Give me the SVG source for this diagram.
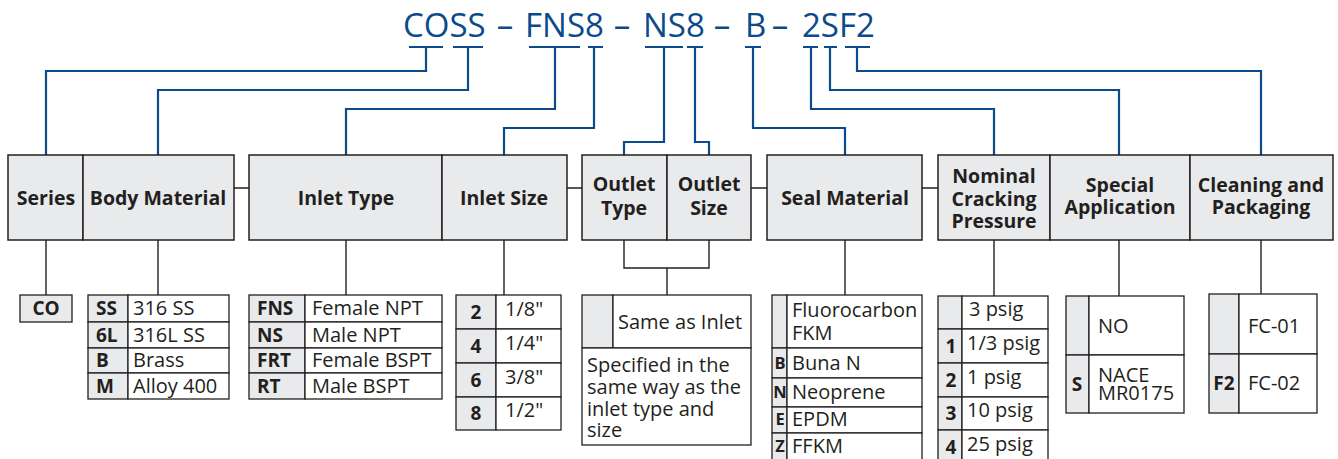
<svg xmlns="http://www.w3.org/2000/svg" width="1338" height="459" viewBox="0 0 1338 459">
<style>
text{font-family:"Open Sans","Noto Sans","Liberation Sans",sans-serif;fill:#231f20}
.code{font-size:33px;fill:#0b4a8b}
.hdr{font-size:19.5px;font-weight:bold;text-anchor:middle}
.v{font-size:20px}
.k{font-size:19px;font-weight:bold}
.ks{font-size:16.5px;font-weight:bold}
.m{text-anchor:middle}
.hb{fill:#e9eaec;stroke:#231f20;stroke-width:1.5}
.g{fill:#e9eaec;stroke:#231f20;stroke-width:1.3}
.w{fill:#fff;stroke:#231f20;stroke-width:1.3}
.bl{fill:none;stroke:#0b4a8b;stroke-width:2.2}
.dk{fill:none;stroke:#231f20;stroke-width:1.4}
</style>
<rect width="1338" height="459" fill="#fff"/>
<g id="model-code">
<text class="code" x="403" y="37">COSS</text>
<text class="code m" x="505" y="37">–</text>
<text class="code" x="525" y="37">FNS8</text>
<text class="code m" x="622" y="37">–</text>
<text class="code" x="643" y="37">NS8</text>
<text class="code m" x="722" y="37">–</text>
<text class="code" x="745" y="37">B</text>
<text class="code m" x="780" y="37">–</text>
<text class="code" x="802" y="37">2SF2</text>
</g>
<g id="connectors">
<path class="bl" d="M409 47H443M426 47V71H46V155"/>
<path class="bl" d="M453 47H483M468 47V90H158V155"/>
<path class="bl" d="M529 47H580M555 47V109H346V155"/>
<path class="bl" d="M588 47H603M594 47V128H504V155"/>
<path class="bl" d="M645 47H683M664 47V142H624V155"/>
<path class="bl" d="M687 47H703M695 47V142H709V155"/>
<path class="bl" d="M745 47H761M753 47V128H845V155"/>
<path class="bl" d="M803 47H818M811 47V109H994V155"/>
<path class="bl" d="M824 47H837M830 47V90H1119V155"/>
<path class="bl" d="M845 47H870M857 47V71H1261V155"/>
<path class="dk" d="M234 188H249M567 188H582M751 188H767M922 188H938"/>
<path class="dk" d="M46 240V295M158 240V295M346 240V295M504 240V295M624 240V268H709V240M667 268V295M845 240V295M994 240V296M1119 240V296M1261 240V294"/>
</g>
<g id="series">
<rect class="hb" x="8" y="155" width="75" height="85"/>
<text class="hdr" x="46" y="205">Series</text>
</g>
<g id="body-material">
<rect class="hb" x="83" y="155" width="151" height="85"/>
<text class="hdr" x="158" y="205">Body Material</text>
</g>
<g id="inlet-type">
<rect class="hb" x="249" y="155" width="193" height="85"/>
<text class="hdr" x="346" y="205">Inlet Type</text>
</g>
<g id="inlet-size">
<rect class="hb" x="442" y="155" width="125" height="85"/>
<text class="hdr" x="504" y="205">Inlet Size</text>
</g>
<g id="outlet-type">
<rect class="hb" x="582" y="155" width="85" height="85"/>
<text class="hdr" x="624" y="191">Outlet<tspan x="624" dy="24">Type</tspan></text>
</g>
<g id="outlet-size">
<rect class="hb" x="667" y="155" width="84" height="85"/>
<text class="hdr" x="709" y="191">Outlet<tspan x="709" dy="24">Size</tspan></text>
</g>
<g id="seal-material">
<rect class="hb" x="767" y="155" width="155" height="85"/>
<text class="hdr" x="845" y="205">Seal Material</text>
</g>
<g id="cracking-pressure">
<rect class="hb" x="938" y="155" width="112" height="85"/>
<text class="hdr" x="994" y="183">Nominal<tspan x="994" dy="22.5">Cracking</tspan><tspan x="994" dy="22.5">Pressure</tspan></text>
</g>
<g id="special-application">
<rect class="hb" x="1050" y="155" width="140" height="85"/>
<text class="hdr" x="1120" y="192">Special<tspan x="1120" dy="22">Application</tspan></text>
</g>
<g id="cleaning">
<rect class="hb" x="1190" y="155" width="143" height="85"/>
<text class="hdr" x="1261" y="192">Cleaning and<tspan x="1261" dy="22">Packaging</tspan></text>
</g>
<g id="series-options">
<rect class="g" x="20" y="295" width="52" height="27"/>
<text class="k m" x="46" y="315">CO</text>
</g>
<g id="body-options">
<rect class="g" x="88" y="295" width="40" height="27"/><rect class="w" x="128" y="295" width="101" height="27"/>
<rect class="g" x="88" y="322" width="40" height="26"/><rect class="w" x="128" y="322" width="101" height="26"/>
<rect class="g" x="88" y="348" width="40" height="25"/><rect class="w" x="128" y="348" width="101" height="25"/>
<rect class="g" x="88" y="373" width="40" height="26"/><rect class="w" x="128" y="373" width="101" height="26"/>
<text class="k" x="96" y="315">SS</text><text class="v" x="133" y="315">316 SS</text>
<text class="k" x="96" y="342">6L</text><text class="v" x="133" y="342">316L SS</text>
<text class="k" x="96" y="367">B</text><text class="v" x="133" y="367">Brass</text>
<text class="k" x="96" y="393">M</text><text class="v" x="133" y="393">Alloy 400</text>
</g>
<g id="inlet-type-options">
<rect class="g" x="249" y="295" width="56" height="27"/><rect class="w" x="305" y="295" width="137" height="27"/>
<rect class="g" x="249" y="322" width="56" height="26"/><rect class="w" x="305" y="322" width="137" height="26"/>
<rect class="g" x="249" y="348" width="56" height="25"/><rect class="w" x="305" y="348" width="137" height="25"/>
<rect class="g" x="249" y="373" width="56" height="26"/><rect class="w" x="305" y="373" width="137" height="26"/>
<text class="k" x="257" y="315">FNS</text><text class="v" x="312" y="315">Female NPT</text>
<text class="k" x="257" y="342">NS</text><text class="v" x="312" y="342">Male NPT</text>
<text class="k" x="257" y="367">FRT</text><text class="v" x="312" y="367">Female BSPT</text>
<text class="k" x="257" y="393">RT</text><text class="v" x="312" y="393">Male BSPT</text>
</g>
<g id="inlet-size-options">
<rect class="g" x="456" y="295" width="40" height="34"/><rect class="w" x="496" y="295" width="65" height="34"/>
<rect class="g" x="456" y="329" width="40" height="34"/><rect class="w" x="496" y="329" width="65" height="34"/>
<rect class="g" x="456" y="363" width="40" height="34"/><rect class="w" x="496" y="363" width="65" height="34"/>
<rect class="g" x="456" y="397" width="40" height="33"/><rect class="w" x="496" y="397" width="65" height="33"/>
<text class="k m" x="476" y="319">2</text><text class="v" x="505" y="316">1/8"</text>
<text class="k m" x="476" y="353">4</text><text class="v" x="505" y="350">1/4"</text>
<text class="k m" x="476" y="387">6</text><text class="v" x="505" y="384">3/8"</text>
<text class="k m" x="476" y="420">8</text><text class="v" x="505" y="417">1/2"</text>
</g>
<g id="outlet-options">
<rect class="g" x="582" y="295" width="31" height="53"/><rect class="w" x="613" y="295" width="138" height="53"/>
<rect class="w" x="582" y="348" width="169" height="97"/>
<text class="v" x="618" y="329">Same as Inlet</text>
<text class="v" x="587" y="372">Specified in the<tspan x="587" dy="22">same way as the</tspan><tspan x="587" dy="22">inlet type and</tspan><tspan x="587" dy="21">size</tspan></text>
</g>
<g id="seal-options">
<rect class="g" x="772" y="295" width="15" height="53"/><rect class="w" x="787" y="295" width="135" height="53"/>
<rect class="g" x="772" y="348" width="15" height="30"/><rect class="w" x="787" y="348" width="135" height="30"/>
<rect class="g" x="772" y="378" width="15" height="29"/><rect class="w" x="787" y="378" width="135" height="29"/>
<rect class="g" x="772" y="407" width="15" height="26"/><rect class="w" x="787" y="407" width="135" height="26"/>
<rect class="g" x="772" y="433" width="15" height="30"/><rect class="w" x="787" y="433" width="135" height="30"/>
<text class="v" x="792" y="317">Fluorocarbon<tspan x="792" dy="23">FKM</tspan></text>
<text class="ks m" x="780" y="369">B</text><text class="v" x="792" y="370">Buna N</text>
<text class="ks m" x="780" y="398">N</text><text class="v" x="792" y="399">Neoprene</text>
<text class="ks m" x="780" y="425">E</text><text class="v" x="792" y="426">EPDM</text>
<text class="ks m" x="780" y="452">Z</text><text class="v" x="792" y="453">FFKM</text>
</g>
<g id="pressure-options">
<rect class="g" x="938" y="296" width="24" height="33"/><rect class="w" x="962" y="296" width="86" height="33"/>
<rect class="g" x="938" y="329" width="24" height="34"/><rect class="w" x="962" y="329" width="86" height="34"/>
<rect class="g" x="938" y="363" width="24" height="34"/><rect class="w" x="962" y="363" width="86" height="34"/>
<rect class="g" x="938" y="397" width="24" height="33"/><rect class="w" x="962" y="397" width="86" height="33"/>
<rect class="g" x="938" y="430" width="24" height="33"/><rect class="w" x="962" y="430" width="86" height="33"/>
<text class="v" x="969" y="316">3 psig</text>
<text class="k m" x="951" y="353">1</text><text class="v" x="967" y="350">1/3 psig</text>
<text class="k m" x="951" y="387">2</text><text class="v" x="967" y="384">1 psig</text>
<text class="k m" x="951" y="420">3</text><text class="v" x="967" y="417">10 psig</text>
<text class="k m" x="951" y="454">4</text><text class="v" x="967" y="451">25 psig</text>
</g>
<g id="special-options">
<rect class="g" x="1066" y="296" width="23" height="59"/><rect class="w" x="1089" y="296" width="95" height="59"/>
<rect class="g" x="1066" y="355" width="23" height="58"/><rect class="w" x="1089" y="355" width="95" height="58"/>
<text class="v" x="1098" y="333">NO</text>
<text class="k m" x="1077" y="391">S</text>
<text class="v" x="1098" y="382">NACE<tspan x="1098" dy="18">MR0175</tspan></text>
</g>
<g id="cleaning-options">
<rect class="g" x="1209" y="294" width="30" height="60"/><rect class="w" x="1239" y="294" width="78" height="60"/>
<rect class="g" x="1209" y="354" width="30" height="59"/><rect class="w" x="1239" y="354" width="78" height="59"/>
<text class="v" x="1248" y="333">FC-01</text>
<text class="k m" x="1224" y="390">F2</text><text class="v" x="1248" y="390">FC-02</text>
</g>
</svg>
